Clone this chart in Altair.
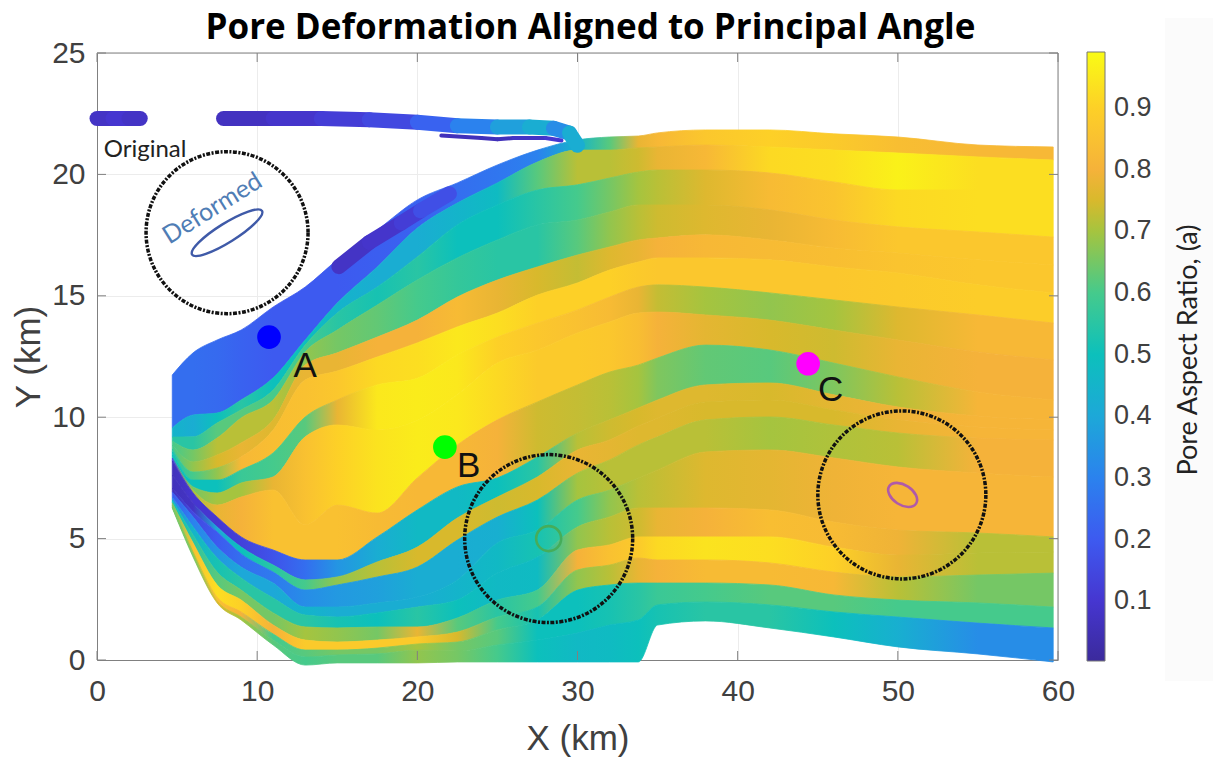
import altair as alt
import pandas as pd

COLS = [4.7, 6, 7.5, 9, 11, 13, 15, 17.5, 20, 22.5, 25, 27.5, 30, 32, 33.8, 35, 38, 42, 46, 50, 55, 59.7]

# streamline boundaries (km), one list per column, top to bottom
B_4_7 = [11.74,9.56,9.18,9.02,8.85,8.69,8.57,8.44,8.32,8.2,7.62,7.08,6.92,6.71,6.59,6.47,6.38,6.3,6.26]
B_6 = [12.65,10.09,9.19,8.65,8.16,7.74,7.41,7.13,7.0,6.88,6.47,6.1,5.89,5.48,5.15,4.82,4.45,4.32,4.24]
B_7_5 = [13.18,10.17,9.76,9.14,8.44,7.91,7.41,6.88,6.38,5.89,5.48,5.27,4.65,4.2,3.62,3.09,2.59,2.43,2.35]
B_9 = [13.59,10.71,10.3,9.97,8.94,8.36,7.83,7.29,6.71,5.07,4.65,4.37,3.83,3.38,2.88,2.47,1.98,1.77,1.65]
B_11 = [14.54,11.62,11.12,10.71,9.89,9.47,8.53,7.54,7.0,4.53,3.91,3.62,3.17,2.55,1.94,1.44,1.07,.82,.62]
B_13 = [15.36,13.18,12.97,12.69,12.15,11.53,10.01,9.19,5.56,4.12,3.3,2.88,2.18,1.85,1.36,.82,.41,.12,-.21]
B_15 = [16.48,14.7,14.29,13.59,12.65,11.9,10.71,9.68,6.38,4.12,3.42,3.09,2.18,1.77,1.32,.74,.41,.21,-.12]
B_17_5 = [17.71,16.19,15.36,14.62,13.3,12.48,11.33,9.47,6.05,5.07,4.04,3.42,2.35,1.94,1.36,.82,.49,.25,-.12]
B_20 = [18.95,17.79,16.6,15.65,14.0,13.06,11.6,9.86,7.5,6.18,4.65,3.83,2.59,2.18,1.36,.95,.66,.41,-.12]
B_22_5 = [19.65,18.82,17.92,16.56,14.95,13.72,12.56,10.92,8.86,7.13,5.85,4.94,3.3,2.47,1.73,1.15,.74,.37,-.08]
B_25 = [20.39,19.65,18.74,17.3,15.65,14.29,13.3,12.23,9.89,7.5,6.71,5.89,4.82,3.58,2.47,1.77,1.24,.62,-.08]
B_27_5 = [21.0,20.51,19.36,17.92,16.19,15.03,13.88,12.77,10.63,8.36,7.54,6.59,5.35,4.24,2.88,2.18,1.65,.82,-.08]
B_30 = [21.42,21.0,19.57,18.12,16.68,15.53,14.42,13.47,11.33,9.35,8.65,7.7,6.59,5.48,4.53,3.71,2.88,1.11,-.08]
B_32 = [21.54,21.0,19.85,18.45,17.01,16.06,14.95,13.92,11.86,9.89,9.06,8.24,7.0,5.89,4.74,3.91,3.09,1.44,-.08]
B_33_8 = [21.58,21.09,20.1,18.74,17.3,16.39,15.36,14.29,12.15,10.38,9.64,8.86,7.5,6.26,5.07,4.2,3.17,1.65,-.08]
B_35 = [21.71,21.13,20.18,18.74,17.38,16.56,15.45,14.33,12.44,10.71,9.97,9.19,7.83,6.26,5.07,4.12,3.17,2.27,1.44]
B_38 = [21.83,21.21,20.18,18.74,17.51,16.56,15.36,14.21,12.97,11.33,10.63,9.89,8.57,6.26,5.07,4.12,3.17,2.39,1.61]
B_42 = [21.83,21.13,20.06,18.54,17.3,16.48,15.12,14.0,12.77,11.41,10.71,10.01,8.65,6.18,5.07,4.0,3.09,2.27,1.32]
B_46 = [21.67,21.0,19.69,18.12,16.97,16.19,14.83,13.59,12.23,10.92,10.3,9.68,8.32,5.68,4.65,3.62,2.68,1.98,.95]
B_50 = [21.54,20.88,19.36,17.84,16.76,15.94,14.54,13.18,11.66,10.42,9.89,9.35,7.95,5.35,4.32,3.42,2.47,1.77,.54]
B_55 = [21.21,20.72,19.36,17.63,16.48,15.45,14.21,12.69,11.04,10.05,9.6,9.14,7.7,5.23,4.41,3.5,2.35,1.52,.25]
B_59_7 = [21.13,20.59,19.36,17.42,16.27,15.12,13.88,12.36,10.71,9.89,9.47,9.06,7.54,5.07,4.45,3.58,2.18,1.32,-.08]
BOUNDS = [B_4_7,B_6,B_7_5,B_9,B_11,B_13,B_15,B_17_5,B_20,B_22_5,B_25,B_27_5,B_30,B_32,B_33_8,B_35,B_38,B_42,B_46,B_50,B_55,B_59_7]

# aspect ratio of each band at each column (the last column repeats the one before)
A_A = [.25,.25,.24,.22,.2,.2,.2,.21,.22,.25,.27,.3,.45,.62,.78,.82,.87,.9,.88,.84,.82]
A_B = [.45,.42,.5,.55,.5,.5,.45,.42,.42,.45,.48,.62,.72,.72,.74,.78,.82,.92,.93,.97,.93]
A_C = [.55,.55,.62,.62,.6,.6,.55,.52,.55,.5,.5,.55,.6,.65,.7,.72,.76,.83,.86,.92,.93]
A_D = [.6,.65,.72,.72,.72,.68,.65,.63,.6,.57,.55,.55,.62,.68,.72,.74,.76,.78,.83,.87,.87]
A_E = [.6,.68,.75,.78,.76,.78,.78,.8,.8,.83,.78,.75,.73,.76,.78,.8,.82,.83,.84,.86,.87]
A_F = [.55,.6,.68,.82,.84,.85,.87,.92,.93,.95,.93,.9,.9,.9,.88,.87,.87,.87,.87,.88,.89]
A_G = [.5,.5,.5,.58,.6,.62,.78,.95,.96,.95,.9,.87,.85,.83,.78,.73,.7,.68,.7,.76,.82]
A_H = [.5,.65,.7,.7,.78,.85,.9,.94,.96,.95,.92,.88,.88,.87,.84,.8,.77,.75,.74,.78,.8]
A_I = [.15,.7,.78,.8,.85,.85,.85,.83,.82,.82,.8,.74,.73,.72,.7,.66,.63,.62,.66,.72,.81]
A_J = [.06,.1,.1,.13,.18,.25,.35,.42,.47,.47,.5,.55,.72,.74,.75,.76,.76,.75,.77,.79,.81]
A_K = [.06,.08,.4,.5,.55,.6,.68,.72,.75,.75,.74,.75,.78,.77,.76,.76,.75,.75,.75,.78,.81]
A_L = [.06,.15,.2,.25,.28,.33,.36,.38,.42,.42,.43,.5,.7,.72,.72,.72,.72,.7,.71,.72,.8]
A_M = [.2,.3,.35,.4,.4,.45,.42,.42,.42,.45,.47,.52,.6,.68,.72,.73,.76,.77,.79,.81,.81]
A_N = [.3,.45,.52,.55,.55,.55,.52,.5,.55,.5,.47,.48,.68,.72,.74,.78,.8,.84,.83,.79,.72]
A_O = [.5,.55,.62,.65,.65,.7,.68,.65,.78,.62,.55,.6,.8,.85,.88,.92,.94,.93,.9,.78,.72]
A_P = [.65,.85,.93,.9,.8,.88,.88,.88,.88,.75,.6,.52,.68,.72,.78,.8,.83,.83,.82,.72,.65]
A_Q = [.65,.7,.85,.8,.6,.62,.65,.65,.7,.65,.62,.5,.5,.52,.55,.58,.6,.62,.62,.6,.6]
A_R = [.65,.65,.75,.7,.62,.6,.62,.62,.68,.65,.6,.5,.47,.48,.5,.52,.55,.55,.5,.43,.33]
BAND_A = [A_A,A_B,A_C,A_D,A_E,A_F,A_G,A_H,A_I,A_J,A_K,A_L,A_M,A_N,A_O,A_P,A_Q,A_R]

# thick strips
STRIP1_X = [0, 1, 2, 2.7]
STRIP1_Y = [22.3, 22.3, 22.3, 22.3]
STRIP1_A = [.08, .1, .08]
STRIP2_X = [7.9, 11, 14, 17, 20, 22.5, 25, 27, 28.5, 29.5, 30]
STRIP2_Y = [22.3, 22.3, 22.3, 22.25, 22.15, 22.0, 21.95, 21.95, 21.9, 21.7, 21.2]
STRIP2_A = [.07, .09, .12, .15, .22, .3, .38, .42, .33, .42]
STRIP3_X = [15.1, 17, 19, 20.2, 22]
STRIP3_Y = [16.2, 17.2, 18.0, 18.5, 19.2]
STRIP3_A = [.08, .09, .12, .17]
EDGE_X = [21.5, 24, 25, 26, 28, 29]
EDGE_Y = [21.6, 21.5, 21.45, 21.5, 21.5, 21.4]
EDGE_A = [.06, .06, .06, .08, .1]

DOT_X = [10.74, 21.72, 44.4]
DOT_Y = [13.3, 8.77, 12.2]
DOT_C = ["#0000ff", "#00ff00", "#ff00ff"]
LETTERS = ["A", "B", "C"]
LETTER_X = [13.0, 23.2, 45.8]
LETTER_Y = [12.1, 8.0, 11.1]
RING_X = [8.12, 28.2, 50.25]
RING_Y = [17.6, 5.0, 6.8]

XT = [0, 10, 20, 30, 40, 50, 60]
YT = [0, 5, 10, 15, 20, 25]
CT = [.1, .2, .3, .4, .5, .6, .7, .8, .9]
C_DOMAIN = [.003, .1, .2, .3, .4, .5, .6, .7, .75, .8, .9, .991]
C_RANGE = ["#3b2a9c", "#4636d0", "#3d5af0", "#2b82ee", "#1da8d8", "#0cc0bc", "#45ca8c",
           "#a5c43f", "#d8b92c", "#f5b23a", "#fdd027", "#f9fb15"]

# ---- scales ----------------------------------------------------------------
TXT = "#404040"
SX = alt.Scale(domain=[0, 60], nice=False, zero=False)
SY = alt.Scale(domain=[0, 25], nice=False, zero=False)
SC = alt.Scale(domain=C_DOMAIN, range=C_RANGE, interpolate="rgb")
W, H = 961, 607

AX = alt.Axis(values=XT, title="X (km)", format="d", grid=True, gridColor="#ececec", domainColor="#808080",
              tickSize=0, labelFontSize=30, labelColor=TXT, labelFont="Liberation Sans", labelPadding=16,
              labelFlush=False, labelOverlap=False,
              titleFontSize=35, titleFont="Liberation Sans", titleFontWeight="normal", titleColor=TXT, titlePadding=15)
AY = alt.Axis(values=YT, title="Y (km)", format="d", grid=True, gridColor="#ececec", domainColor="#808080",
              tickSize=0, labelFontSize=30, labelColor=TXT, labelFont="Liberation Sans", labelPadding=12,
              labelFlush=False, labelOverlap=False,
              titleFontSize=35, titleFont="Liberation Sans", titleFontWeight="normal", titleColor=TXT, titlePadding=5)

def X(f="x"):
    return alt.X(f"{f}:Q", scale=SX, axis=AX)
def Y(f="y"):
    return alt.Y(f"{f}:Q", scale=SY, axis=AY)

def shade(v):
    """Colour of an aspect ratio on the same ramp as the colour scale."""
    for i in range(len(C_DOMAIN) - 1):
        if v <= C_DOMAIN[i + 1]:
            t = (v - C_DOMAIN[i]) / (C_DOMAIN[i + 1] - C_DOMAIN[i])
            a, b = C_RANGE[i], C_RANGE[i + 1]
            ch = [round(int(a[j:j + 2], 16) * (1 - t) + int(b[j:j + 2], 16) * t) for j in (1, 3, 5)]
            return "#%02x%02x%02x" % tuple(ch)
    return C_RANGE[-1]

def band_layer(b, vals):
    tab = pd.DataFrame({"x": COLS, "y": [c[b] for c in BOUNDS], "y2": [c[b + 1] for c in BOUNDS]})
    span = COLS[-1] - COLS[0]
    stops = [alt.GradientStop(offset=(c - COLS[0]) / span, color=shade(v))
             for c, v in zip(COLS, list(vals) + [vals[-1]])]
    grad = alt.LinearGradient(gradient="linear", stops=stops, x1=0, x2=1, y1=0, y2=0)
    return alt.Chart(tab).mark_area(color=grad, stroke=grad, strokeWidth=0.8, interpolate="monotone").encode(
        x=X(), y=Y(), y2="y2:Q")

def seg_rows(xs, ys, az, tag):
    out = []
    for i, a in enumerate(az):
        for c in (i, i + 1):
            out.append({"x": xs[c], "y": ys[c], "a": a, "seg": f"{tag}{i}"})
    return out

strips = pd.DataFrame(seg_rows(STRIP1_X, STRIP1_Y, STRIP1_A, "s") +
                      seg_rows(STRIP2_X, STRIP2_Y, STRIP2_A, "t") +
                      seg_rows(STRIP3_X, STRIP3_Y, STRIP3_A, "u"))
edge = pd.DataFrame(seg_rows(EDGE_X, EDGE_Y, EDGE_A, "e"))

# ---- layers ----------------------------------------------------------------
faint = alt.Chart(pd.DataFrame({"k": [0]})).mark_rect(color="#fbfbfb").encode(
    x=alt.value(1068), x2=alt.value(1116), y=alt.value(-35), y2=alt.value(628))

bands = [band_layer(b, v) for b, v in enumerate(BAND_A)]

strip_layer = alt.Chart(strips).mark_line(strokeWidth=15, strokeCap="round").encode(
    x=X(), y=Y(), detail="seg:N",
    color=alt.Color("a:Q", scale=SC, legend=alt.Legend(
        type="gradient", orient="none", legendX=990, legendY=-1, title=None, values=CT, format=".1f",
        gradientLength=609, gradientThickness=18, gradientStrokeColor="#777777", gradientStrokeWidth=1,
        labelFontSize=27, labelColor=TXT, labelFont="Liberation Sans", labelOffset=9)))
edge_layer = alt.Chart(edge).mark_line(strokeWidth=4, strokeCap="round").encode(
    x=X(), y=Y(), color=alt.Color("a:Q", scale=SC, legend=None), detail="seg:N")

xt = pd.DataFrame({"x": XT})
yt = pd.DataFrame({"y": YT})
TICK = "#808080"
xt_low = alt.Chart(xt).mark_rule(color=TICK).encode(x=X(), y=alt.value(H), y2=alt.value(H - 9))
xt_top = alt.Chart(xt).mark_rule(color=TICK).encode(x=X(), y=alt.value(0), y2=alt.value(9))
yt_low = alt.Chart(yt).mark_rule(color=TICK).encode(y=Y(), x=alt.value(0), x2=alt.value(9))
yt_top = alt.Chart(yt).mark_rule(color=TICK).encode(y=Y(), x=alt.value(W), x2=alt.value(W - 9))
right = alt.Chart(pd.DataFrame({"k": [0]})).mark_rule(color=TICK).encode(x=alt.value(W), y=alt.value(0), y2=alt.value(H))
top = alt.Chart(pd.DataFrame({"k": [0]})).mark_rule(color=TICK).encode(y=alt.value(0), x=alt.value(0), x2=alt.value(W))

rings = alt.Chart(pd.DataFrame({"x": RING_X, "y": RING_Y, "s": [26244, 28224, 28224]})).mark_point(
    shape="circle", filled=False, color="#111111", strokeWidth=3.5, strokeDash=[4, 1.5, 2, 1.5], opacity=1
).encode(x=X(), y=Y(), size=alt.Size("s:Q", scale=None, legend=None))

dots = alt.Chart(pd.DataFrame({"x": DOT_X, "y": DOT_Y, "c": DOT_C})).mark_point(
    shape="circle", filled=True, size=560, opacity=1
).encode(x=X(), y=Y(), color=alt.Color("c:N", scale=None, legend=None))

letters = alt.Chart(pd.DataFrame({"x": LETTER_X, "y": LETTER_Y, "t": LETTERS})).mark_text(
    font="Liberation Sans", fontSize=35, color="#111111", align="center", baseline="middle"
).encode(x=X(), y=Y(), text="t:N")

ELLIPSE = "M -1 0 A 1 0.23 0 1 1 1 0 A 1 0.23 0 1 1 -1 0 Z"
ELLIPSE2 = "M -1 0 A 1 0.62 0 1 1 1 0 A 1 0.62 0 1 1 -1 0 Z"
e1 = alt.Chart(pd.DataFrame({"x": [8.12], "y": [17.6]})).mark_point(
    shape=ELLIPSE, filled=False, size=6800, angle=328, color="#3f5aa8", strokeWidth=2.4, opacity=1
).encode(x=X(), y=Y())
e2 = alt.Chart(pd.DataFrame({"x": [28.2], "y": [5.0]})).mark_point(
    shape="circle", filled=False, size=625, color="#45ad5a", strokeWidth=2.6, opacity=1
).encode(x=X(), y=Y())
e3 = alt.Chart(pd.DataFrame({"x": [50.3], "y": [6.8]})).mark_point(
    shape=ELLIPSE2, filled=False, size=1024, angle=33, color="#b05aa8", strokeWidth=2.6, opacity=1
).encode(x=X(), y=Y())

original = alt.Chart(pd.DataFrame({"x": [3.0], "y": [21.0], "t": ["Original"]})).mark_text(
    font="Lato", fontSize=24, color="#222222", align="center", baseline="middle"
).encode(x=X(), y=Y(), text="t:N")
deformed = alt.Chart(pd.DataFrame({"x": [7.2], "y": [18.6], "t": ["Deformed"]})).mark_text(
    font="Lato", fontSize=25, color="#4f7db5", angle=328, align="center", baseline="middle"
).encode(x=X(), y=Y(), text="t:N")

cb_title = alt.Chart(pd.DataFrame({"t": ["Pore Aspect Ratio, (a)"]})).mark_text(
    font="Lato", fontSize=27, color="#222222", angle=270, align="center", baseline="middle"
).encode(x=alt.value(1092), y=alt.value(297), text="t:N")

cb_ticks = []
for v in CT:
    py = (0.991 - v) / 0.988 * 609 - 1
    cb_ticks.append(alt.Chart(pd.DataFrame({"k": [v]})).mark_rule(color="#777777").encode(
        x=alt.value(1002), x2=alt.value(1008), y=alt.value(py)))

chart = alt.layer(
    faint, *bands, strip_layer, edge_layer, rings, dots, letters, e1, e2, e3, original, deformed,
    xt_low, xt_top, yt_low, yt_top, right, top, cb_title, *cb_ticks
).properties(
    width=W, height=H,
    padding={"left": 89, "top": 45, "right": 155, "bottom": 98},
    autosize=alt.AutoSizeParams(type="none"),
    title=alt.TitleParams(
        "Pore Deformation Aligned to Principal Angle", font="Open Sans", fontSize=35, fontWeight="bold",
        color="#000000", anchor="middle", dx=13, dy=32, offset=4),
    background="white",
).configure_view(stroke=None)

chart.save("out.html", embed_options={"renderer": "svg", "actions": False})
